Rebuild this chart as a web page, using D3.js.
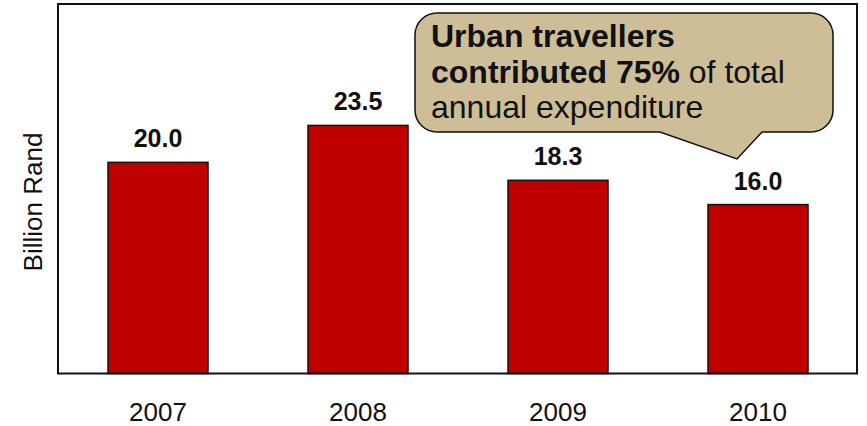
<!DOCTYPE html>
<html>
<head>
<meta charset="utf-8">
<script src="https://cdn.jsdelivr.net/npm/d3@7"></script>
<style>
  html, body { margin: 0; padding: 0; background: #fff; }
  svg { display: block; font-family: "Liberation Sans", Arial, sans-serif; }
</style>
</head>
<body>
<svg id="chart" width="867" height="426"></svg>
<script>
// Annual expenditure, billion rand
const years = ["2007", "2008", "2009", "2010"];
const expenditure = [20.0, 23.5, 18.3, 16.0];
const yMax = 35;
const axisTitle = "Billion Rand";
// Callout lines: bold part followed by regular part
const calloutBold = ["Urban travellers", "contributed 75%", ""];
const calloutPlain = ["", " of total", "annual expenditure"];

const svg = d3.select("#chart");
const plot = { left: 58, right: 858, top: 4, bottom: 373.5 };

const x = d3.scaleBand()
  .domain(years)
  .range([plot.left, plot.right])
  .paddingInner(0.5)
  .paddingOuter(0.25);

const y = d3.scaleLinear()
  .domain([0, yMax])
  .range([plot.bottom, plot.top]);

// Bars
svg.append("g")
  .selectAll("rect")
  .data(expenditure)
  .join("rect")
  .attr("x", (d, i) => x(years[i]))
  .attr("y", d => y(d))
  .attr("width", x.bandwidth())
  .attr("height", d => y(0) - y(d))
  .attr("fill", "#C00000")
  .attr("stroke", "#111")
  .attr("stroke-width", 1.5);

// Value labels
svg.append("g")
  .selectAll("text")
  .data(expenditure)
  .join("text")
  .attr("x", (d, i) => x(years[i]) + x.bandwidth() / 2)
  .attr("y", d => y(d) - 15)
  .attr("text-anchor", "middle")
  .attr("font-weight", "bold")
  .attr("font-size", 25)
  .attr("fill", "#111")
  .text(d => d.toFixed(1));

// Plot frame
svg.append("rect")
  .attr("x", plot.left)
  .attr("y", plot.top)
  .attr("width", plot.right - plot.left - 1)
  .attr("height", plot.bottom - plot.top)
  .attr("fill", "none")
  .attr("stroke", "#111")
  .attr("stroke-width", 2);

// Category axis (labels only)
const xAxis = svg.append("g")
  .attr("transform", `translate(0,${plot.bottom})`)
  .call(d3.axisBottom(x).tickSize(0));
xAxis.select(".domain").remove();
xAxis.selectAll("text")
  .attr("y", 47.5)
  .attr("dy", null)
  .attr("font-size", 26)
  .attr("font-family", "Liberation Sans, Arial, sans-serif")
  .attr("fill", "#111");

// Axis title
svg.append("text")
  .attr("transform", "translate(42,202) rotate(-90)")
  .attr("text-anchor", "middle")
  .attr("font-size", 26)
  .attr("fill", "#111")
  .text(axisTitle);

// Callout bubble with a pointer
const bx0 = 415, by0 = 13, bx1 = 833, by1 = 132, r = 22;
const tail = { a: 660, b: 762, tipX: 737, tipY: 159 };
const bubble = d3.path();
bubble.moveTo(bx0 + r, by0);
bubble.lineTo(bx1 - r, by0);
bubble.arcTo(bx1, by0, bx1, by0 + r, r);
bubble.lineTo(bx1, by1 - r);
bubble.arcTo(bx1, by1, bx1 - r, by1, r);
bubble.lineTo(tail.b, by1);
bubble.lineTo(tail.tipX, tail.tipY);
bubble.lineTo(tail.a, by1);
bubble.lineTo(bx0 + r, by1);
bubble.arcTo(bx0, by1, bx0, by1 - r, r);
bubble.lineTo(bx0, by0 + r);
bubble.arcTo(bx0, by0, bx0 + r, by0, r);
bubble.closePath();

svg.append("path")
  .attr("d", bubble.toString())
  .attr("fill", "#CDBE98")
  .attr("stroke", "#111")
  .attr("stroke-width", 1.5);

const lineY = [47, 83, 118];
const callout = svg.append("g").attr("font-size", 32).attr("fill", "#111");
lineY.forEach((ly, i) => {
  const t = callout.append("text").attr("x", 431).attr("y", ly);
  if (calloutBold[i]) t.append("tspan").attr("font-weight", "bold").text(calloutBold[i]);
  if (calloutPlain[i]) t.append("tspan").text(calloutPlain[i]);
});
</script>
</body>
</html>
